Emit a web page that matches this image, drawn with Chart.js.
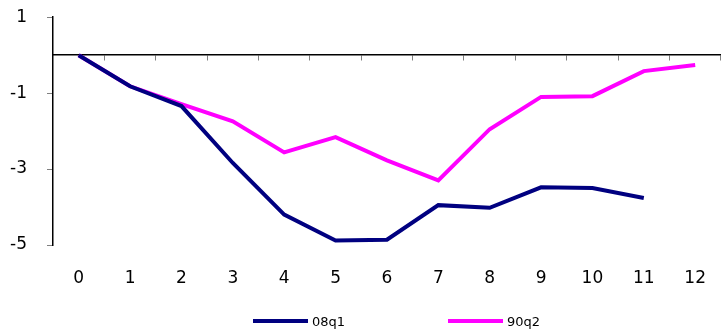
<!DOCTYPE html>
<html>
  <head>
    <meta charset="utf-8">
    <title>08q1 vs 90q2</title>
    <style>
      body{
        margin: 0;
        overflow: hidden;
        background: #ffffff;
        font-family: "DejaVu Sans", sans-serif;
      }
      #wrap{
        position: relative;
        width: 729px;
        height: 330px;
        overflow: hidden;
      }
      /* chart.js keeps ~13px above the plot for the top label, pull it up */
      #myChart{
        display: block;
        margin-top: -13px;
      }
      #legend{
        position: absolute;
        left: 253px;
        top: 313px;
        display: flex;
        font-size: 13px;
        color: #000;
      }
      #legend .item{
        width: 195px;
        height: 16px;
        display: flex;
        align-items: center;
      }
      #legend .line{
        width: 55px;
        height: 4px;
        margin-right: 4px;
      }
    </style>
  </head>
  <body>

<div id="wrap">
  <canvas id="myChart" width="729" height="343"></canvas>
  <div id="legend"></div>
</div>

<script src="https://cdn.jsdelivr.net/npm/chart.js@4/dist/chart.umd.min.js"></script>
<script>
  // data
  const quarters = ['0','1','2','3','4','5','6','7','8','9','10','11','12'];
  const s08q1 = [0, -0.82, -1.34, -2.84, -4.2, -4.88, -4.86, -3.95, -4.02, -3.48, -3.5, -3.76];
  const s90q2 = [0, -0.82, -1.29, -1.74, -2.56, -2.16, -2.77, -3.3, -1.95, -1.1, -1.08, -0.42, -0.26];
  const yTicks = [-5, -3, -1, 1];

  const navy = '#000080';
  const magenta = '#ff00ff';
  const tickFont = { family: 'DejaVu Sans', size: 17 };

  const ctx = document.getElementById('myChart').getContext('2d');
  const chart = new Chart(ctx, {
    type: 'line',
    data: {
      labels: quarters,
      datasets: [{
        label: '08q1',
        data: s08q1,
        borderColor: navy,
        backgroundColor: navy,
        borderWidth: 4,
        pointRadius: 0,
        tension: 0,
        xAxisID: 'x'
      }, {
        label: '90q2',
        data: s90q2,
        borderColor: magenta,
        backgroundColor: magenta,
        borderWidth: 4,
        pointRadius: 0,
        tension: 0,
        xAxisID: 'x'
      }]
    },
    options: {
      responsive: false,
      animation: false,
      layout: { padding: { top: 4, right: 0, left: 0, bottom: 0 } },
      plugins: {
        legend: { display: false },
        tooltip: { enabled: false }
      },
      scales: {
        x: {
          type: 'category',
          position: 'bottom',
          offset: true,
          grid: { display: false, drawTicks: false },
          border: { display: false },
          ticks: {
            color: '#000',
            padding: 23,
            maxRotation: 0,
            autoSkip: false,
            font: tickFont
          },
          afterFit: s => { s.height = 85; }
        },
        x0: {
          type: 'category',
          labels: quarters,
          position: { y: 0 },
          offset: true,
          grid: {
            offset: true,
            drawOnChartArea: false,
            drawTicks: true,
            tickLength: 5,
            tickColor: '#808080'
          },
          border: { display: true, color: '#000', width: 1.5 },
          ticks: { display: false }
        },
        y: {
          min: -5,
          max: 1,
          afterBuildTicks: s => { s.ticks = yTicks.map(v => ({ value: v })); },
          afterFit: s => { s.width = 53; },
          grid: {
            drawOnChartArea: false,
            tickLength: 6,
            tickColor: '#808080'
          },
          border: { display: true, color: '#000', width: 1.5 },
          ticks: {
            color: '#000',
            padding: 20,
            font: tickFont
          }
        }
      }
    }
  });

  // legend as plain html, built from the datasets
  const legend = document.getElementById('legend');
  chart.data.datasets.forEach(ds => {
    const item = document.createElement('div');
    item.className = 'item';
    item.innerHTML = '<span class="line" style="background:' + ds.borderColor + '"></span>' + ds.label;
    legend.appendChild(item);
  });
</script>

  </body>
</html>
